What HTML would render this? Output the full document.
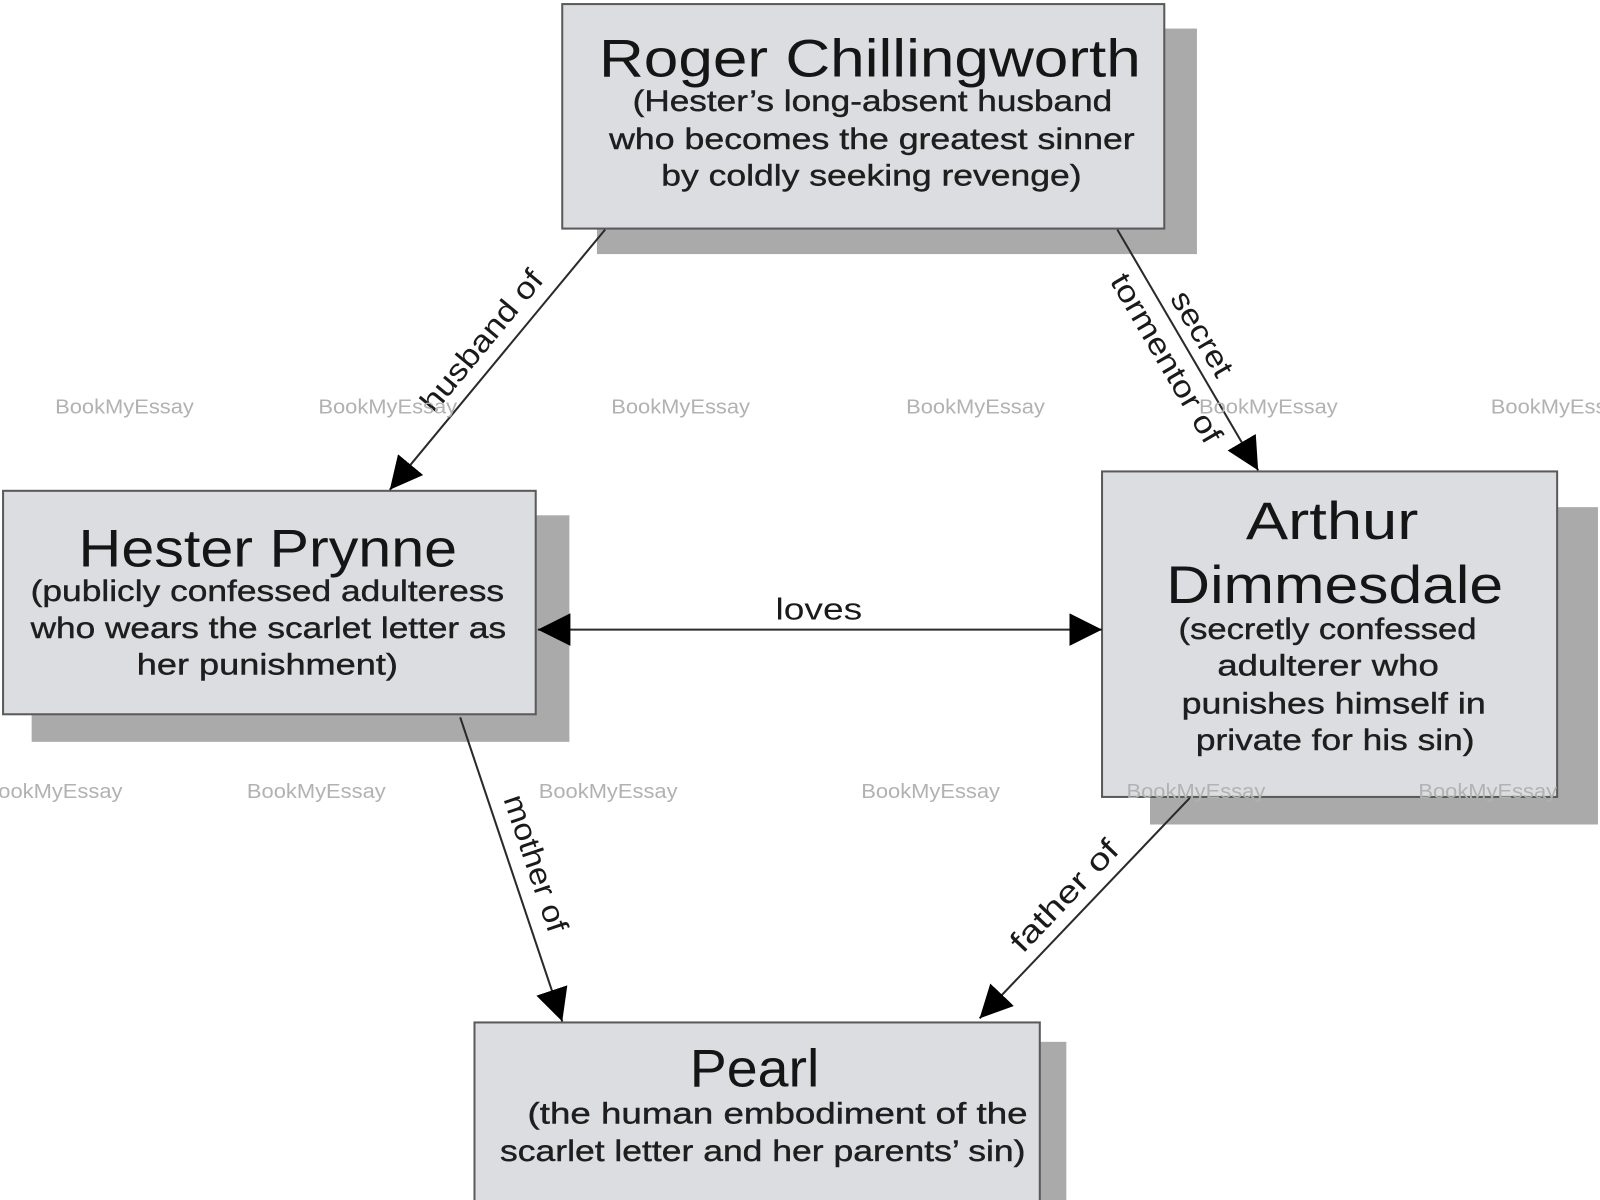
<!DOCTYPE html>
<html>
<head>
<meta charset="utf-8">
<style>
html,body{margin:0;padding:0;background:#fff;}
svg{display:block;}
text{font-family:"Liberation Sans",Arial,sans-serif;}
.t{font-size:52px;fill:#151515;}
.s{font-size:29px;fill:#1e1e1e;stroke:#1e1e1e;stroke-width:0.4;}
.l{font-size:30px;fill:#1a1a1a;}
.w{font-size:20px;fill:#b2b2b2;}
.box{fill:#dcdde0;stroke:#5a5a5a;stroke-width:2;}
.sh{fill:#aaaaaa;}
.ln{stroke:#2a2a2a;stroke-width:2;fill:none;}
</style>
</head>
<body>
<svg width="1600" height="1200" viewBox="0 0 1568 1176" xmlns="http://www.w3.org/2000/svg">
<defs>
<marker id="ar" markerWidth="34" markerHeight="34" refX="32" refY="16" orient="auto-start-reverse" markerUnits="userSpaceOnUse">
<path d="M0,0 L32,16 L0,32 z" fill="#000"/>
</marker>
</defs>
<rect width="1568" height="1176" fill="#fff"/>

<!-- shadows -->
<rect class="sh" x="585" y="28" width="588" height="221"/>
<rect class="sh" x="31" y="505" width="527" height="222"/>
<rect class="sh" x="1127" y="497" width="439" height="311"/>
<rect class="sh" x="497" y="1021" width="548" height="200"/>

<!-- boxes -->
<rect class="box" x="551" y="4" width="590" height="220"/>
<rect class="box" x="3" y="481" width="522" height="219"/>
<rect class="box" x="1080" y="462" width="446" height="319"/>
<rect class="box" x="465" y="1002" width="554" height="200"/>

<!-- connectors -->
<line class="ln" x1="593" y1="225" x2="382" y2="480" marker-end="url(#ar)"/>
<line class="ln" x1="1095" y1="225" x2="1233" y2="461" marker-end="url(#ar)"/>
<line class="ln" x1="527" y1="617" x2="1080" y2="617" marker-start="url(#ar)" marker-end="url(#ar)"/>
<line class="ln" x1="451" y1="703" x2="551" y2="1001" marker-end="url(#ar)"/>
<line class="ln" x1="1166" y1="782" x2="960" y2="998" marker-end="url(#ar)"/>

<!-- Roger -->
<text class="t" x="587" y="75" textLength="531" lengthAdjust="spacingAndGlyphs">Roger Chillingworth</text>
<text class="s" x="620" y="109" textLength="470" lengthAdjust="spacingAndGlyphs">(Hester’s long-absent husband</text>
<text class="s" x="597" y="146" textLength="515" lengthAdjust="spacingAndGlyphs">who becomes the greatest sinner</text>
<text class="s" x="648" y="182" textLength="412" lengthAdjust="spacingAndGlyphs">by coldly seeking revenge)</text>

<!-- Hester -->
<text class="t" x="77" y="555" textLength="371" lengthAdjust="spacingAndGlyphs">Hester Prynne</text>
<text class="s" x="30" y="589" textLength="464" lengthAdjust="spacingAndGlyphs">(publicly confessed adulteress</text>
<text class="s" x="30" y="625" textLength="466" lengthAdjust="spacingAndGlyphs">who wears the scarlet letter as</text>
<text class="s" x="134" y="661" textLength="256" lengthAdjust="spacingAndGlyphs">her punishment)</text>

<!-- Arthur -->
<text class="t" x="1221" y="528" textLength="169" lengthAdjust="spacingAndGlyphs">Arthur</text>
<text class="t" x="1143" y="591" textLength="330" lengthAdjust="spacingAndGlyphs">Dimmesdale</text>
<text class="s" x="1155" y="626" textLength="292" lengthAdjust="spacingAndGlyphs">(secretly confessed</text>
<text class="s" x="1193" y="662" textLength="217" lengthAdjust="spacingAndGlyphs">adulterer who</text>
<text class="s" x="1158" y="699" textLength="298" lengthAdjust="spacingAndGlyphs">punishes himself in</text>
<text class="s" x="1172" y="735" textLength="273" lengthAdjust="spacingAndGlyphs">private for his sin)</text>

<!-- Pearl -->
<text class="t" x="676" y="1065" textLength="127" lengthAdjust="spacingAndGlyphs">Pearl</text>
<text class="s" x="517" y="1101" textLength="490" lengthAdjust="spacingAndGlyphs">(the human embodiment of the</text>
<text class="s" x="490" y="1138" textLength="515" lengthAdjust="spacingAndGlyphs">scarlet letter and her parents’ sin)</text>

<!-- labels -->
<text class="l" x="760" y="607" textLength="85" lengthAdjust="spacingAndGlyphs">loves</text>
<g transform="translate(472,334) rotate(-50.4)"><text class="l" x="-85" y="10" textLength="170" lengthAdjust="spacingAndGlyphs">husband of</text></g>
<g transform="translate(1178,327) rotate(59.7)"><text class="l" x="-46" y="10" textLength="92" lengthAdjust="spacingAndGlyphs">secret</text></g>
<g transform="translate(1143,351) rotate(59.7)"><text class="l" x="-93.5" y="10" textLength="187" lengthAdjust="spacingAndGlyphs">tormentor of</text></g>
<g transform="translate(525,846) rotate(71.4)"><text class="l" x="-70" y="10" textLength="140" lengthAdjust="spacingAndGlyphs">mother of</text></g>
<g transform="translate(1043,878) rotate(-46.4)"><text class="l" x="-69.5" y="10" textLength="139" lengthAdjust="spacingAndGlyphs">father of</text></g>

<!-- watermarks -->
<g>
<text class="w" x="54" y="405" textLength="136" lengthAdjust="spacingAndGlyphs">BookMyEssay</text>
<text class="w" x="312" y="405" textLength="136" lengthAdjust="spacingAndGlyphs">BookMyEssay</text>
<text class="w" x="599" y="405" textLength="136" lengthAdjust="spacingAndGlyphs">BookMyEssay</text>
<text class="w" x="888" y="405" textLength="136" lengthAdjust="spacingAndGlyphs">BookMyEssay</text>
<text class="w" x="1175" y="405" textLength="136" lengthAdjust="spacingAndGlyphs">BookMyEssay</text>
<text class="w" x="1461" y="405" textLength="136" lengthAdjust="spacingAndGlyphs">BookMyEssay</text>
<text class="w" x="-16" y="782" textLength="136" lengthAdjust="spacingAndGlyphs">BookMyEssay</text>
<text class="w" x="242" y="782" textLength="136" lengthAdjust="spacingAndGlyphs">BookMyEssay</text>
<text class="w" x="528" y="782" textLength="136" lengthAdjust="spacingAndGlyphs">BookMyEssay</text>
<text class="w" x="844" y="782" textLength="136" lengthAdjust="spacingAndGlyphs">BookMyEssay</text>
<text class="w" x="1104" y="782" textLength="136" lengthAdjust="spacingAndGlyphs">BookMyEssay</text>
<text class="w" x="1390" y="782" textLength="136" lengthAdjust="spacingAndGlyphs">BookMyEssay</text>
</g>
</svg>
</body>
</html>
